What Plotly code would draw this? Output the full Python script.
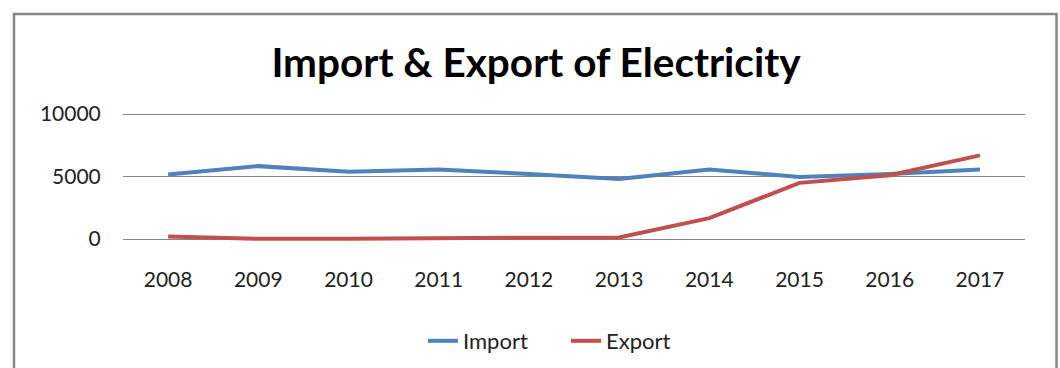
import plotly.graph_objects as go

# Annual electricity trade (units as reported)
years = ["2008", "2009", "2010", "2011", "2012", "2013", "2014", "2015", "2016", "2017"]
imports = [5160, 5830, 5380, 5560, 5200, 4810, 5560, 4970, 5210, 5560]
exports = [200, 20, 20, 100, 100, 120, 1670, 4490, 5100, 6690]
y_ticks = [0, 5000, 10000]
y_tick_text = ["0", "5000", "10000"]

W, H = 1060, 368
# plot area: 0 at y=239px, 10000 at y=114px; x from 123px to 1025px
EDGE = 3  # extra px above/below so the outer gridlines are drawn
L, R, T, B = 123, 35, 114 - EDGE, 129 - EDGE
units_per_px = 10000 / 125
pad = EDGE * units_per_px

FONT = "Lato"

def px_x(px):
    return (px - L) / (W - L - R)

def px_y(py):
    return (H - B - py) / (H - T - B)

fig = go.Figure()
fig.add_trace(go.Scatter(x=years, y=imports, name="Import", mode="lines",
                         line=dict(color="#4F81BD", width=4)))
fig.add_trace(go.Scatter(x=years, y=exports, name="Export", mode="lines",
                         line=dict(color="#C0504D", width=4)))

fig.update_layout(
    width=W, height=H,
    margin=dict(l=L, r=R, t=T, b=B, pad=0, autoexpand=False),
    paper_bgcolor="white", plot_bgcolor="white",
    font=dict(family=FONT, size=21, color="#222222"),
    title=dict(text="<b>Import & Export of Electricity</b>",
               x=536 / W, xref="container", xanchor="center",
               y=1 - 63 / H, yref="container", yanchor="middle",
               font=dict(family=FONT, size=40.5, color="black")),
    showlegend=True,
    legend=dict(orientation="h", xref="container", x=423 / W, xanchor="left",
                yref="container", y=1 - 341 / H, yanchor="middle",
                entrywidth=98, entrywidthmode="pixels",
                font=dict(family=FONT, size=22, color="#222222"),
                bgcolor="rgba(0,0,0,0)"),
    xaxis=dict(type="category", range=[-0.5, 9.5], showgrid=False,
               zeroline=False, showline=False,
               ticks="outside", ticklen=19, tickcolor="rgba(0,0,0,0)"),
    yaxis=dict(range=[-pad, 10000 + pad], tickvals=y_ticks,
               ticktext=y_tick_text, showgrid=True,
               gridcolor="#868686", gridwidth=1, zeroline=False,
               showline=False, ticks="outside", ticklen=17,
               tickcolor="rgba(0,0,0,0)"),
    shapes=[dict(type="rect", xref="paper", yref="paper",
                 x0=px_x(14), x1=px_x(1056.5), y0=px_y(400), y1=px_y(14),
                 line=dict(color="#888888", width=2.5),
                 fillcolor="rgba(0,0,0,0)", layer="below")],
)

fig.write_html("out.html")
